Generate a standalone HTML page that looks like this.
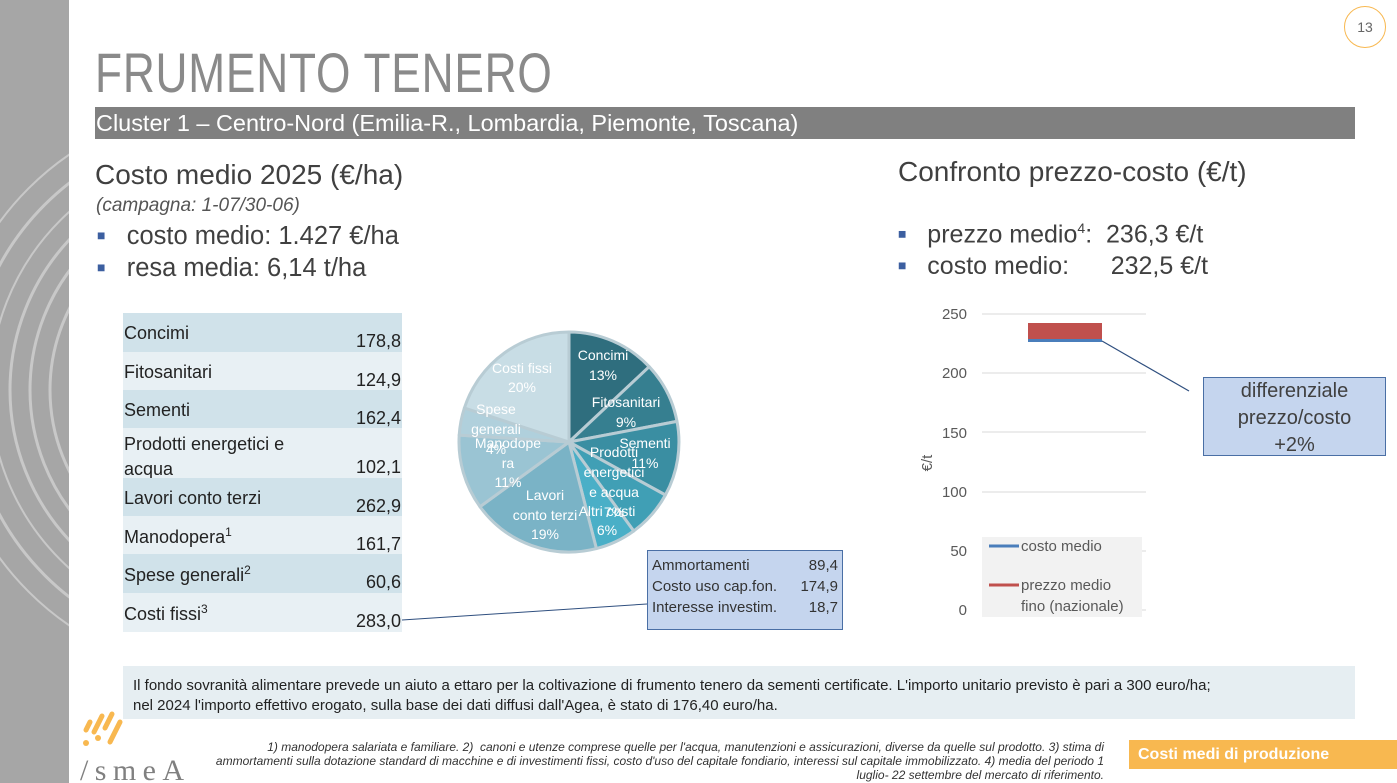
<!DOCTYPE html>
<html><head><meta charset="utf-8"><style>
body{margin:0;width:1397px;height:783px;overflow:hidden;background:#fff;font-family:"Liberation Sans",sans-serif;position:relative}
.a{position:absolute;white-space:nowrap}
.row{position:absolute;left:123px;width:279px;font-size:18px;color:#222}
.row span{position:absolute}
</style></head><body>
<div class="a" style="left:0;top:0;width:69px;height:783px;background:#a6a6a6;overflow:hidden">
<svg width="69" height="783"><g fill="none" stroke="#c8c8c8" stroke-width="3">
<circle cx="230" cy="390" r="180"/><circle cx="230" cy="390" r="200"/><circle cx="230" cy="390" r="220"/><circle cx="230" cy="390" r="240" stroke-width="2"/><circle cx="230" cy="390" r="262"/><circle cx="230" cy="390" r="285" stroke-width="2"/></g></svg></div>
<div class="a" style="left:1344px;top:6px;width:40px;height:40px;border:1px solid #f8b850;border-radius:50%;text-align:center;line-height:40px;font-size:14px;color:#666">13</div>
<div class="a" style="left:95px;top:40px;font-size:56px;color:#8a8a8a;letter-spacing:1px;transform:scaleX(0.79);transform-origin:left">FRUMENTO TENERO</div>
<div class="a" style="left:95px;top:107px;width:1260px;height:32px;background:#808080"></div>
<div class="a" style="left:96px;top:110px;font-size:23px;color:#fff;transform:scaleX(1.02);transform-origin:left">Cluster 1 – Centro-Nord (Emilia-R., Lombardia, Piemonte, Toscana)</div>
<div class="a" style="left:95px;top:159px;font-size:28px;color:#404040">Costo medio 2025 (€/ha)</div>
<div class="a" style="left:96px;top:195px;font-size:19px;color:#555;font-style:italic">(campagna: 1-07/30-06)</div>
<div class="a" style="left:97px;top:222px;font-size:25.5px;color:#404040"><span style="color:#3c5fa0;font-size:14px;vertical-align:4px">■</span>&nbsp;&nbsp;&nbsp;costo medio: 1.427 €/ha</div>
<div class="a" style="left:97px;top:254px;font-size:25.5px;color:#404040"><span style="color:#3c5fa0;font-size:14px;vertical-align:4px">■</span>&nbsp;&nbsp;&nbsp;resa media: 6,14 t/ha</div>
<div class="a" style="left:898px;top:156px;font-size:28px;color:#404040">Confronto prezzo-costo (€/t)</div>
<div class="a" style="left:898px;top:220px;font-size:25px;color:#404040"><span style="color:#3c5fa0;font-size:14px;vertical-align:4px">■</span>&nbsp;&nbsp;&nbsp;prezzo medio<sup style="font-size:14px">4</sup>:&nbsp; 236,3 €/t</div>
<div class="a" style="left:898px;top:252px;font-size:25px;color:#404040"><span style="color:#3c5fa0;font-size:14px;vertical-align:4px">■</span>&nbsp;&nbsp;&nbsp;costo medio:&nbsp;&nbsp;&nbsp;&nbsp;&nbsp; 232,5 €/t</div>

<div class="row" style="top:313px;height:39px;background:#d0e2ea"><span style="left:1px;top:10px">Concimi</span><span style="right:1px;top:18px">178,8</span></div>
<div class="row" style="top:352px;height:38px;background:#e8f0f4"><span style="left:1px;top:10px">Fitosanitari</span><span style="right:1px;top:18px">124,9</span></div>
<div class="row" style="top:390px;height:38px;background:#d0e2ea"><span style="left:1px;top:10px">Sementi</span><span style="right:1px;top:18px">162,4</span></div>
<div class="row" style="top:428px;height:50px;background:#e8f0f4"><span style="left:1px;top:4px;line-height:25px">Prodotti energetici e<br>acqua</span><span style="right:1px;top:29px">102,1</span></div>
<div class="row" style="top:478px;height:38px;background:#d0e2ea"><span style="left:1px;top:10px">Lavori conto terzi</span><span style="right:1px;top:18px">262,9</span></div>
<div class="row" style="top:516px;height:38px;background:#e8f0f4"><span style="left:1px;top:9px">Manodopera<sup style="font-size:12px">1</sup></span><span style="right:1px;top:18px">161,7</span></div>
<div class="row" style="top:554px;height:39px;background:#d0e2ea"><span style="left:1px;top:9px">Spese generali<sup style="font-size:12px">2</sup></span><span style="right:1px;top:18px">60,6</span></div>
<div class="row" style="top:593px;height:39px;background:#e8f0f4"><span style="left:1px;top:9px">Costi fissi<sup style="font-size:12px">3</sup></span><span style="right:1px;top:18px">283,0</span></div>

<svg class="a" style="left:0;top:0" width="1397" height="783">
<g stroke="#b8ccd4" stroke-width="3" stroke-linejoin="round">
<path d="M569 442L569 332A110 110 0 0 1 649.2 366.7Z" fill="#2f6e7e"/>
<path d="M569 442L649.2 366.7A110 110 0 0 1 677 421.4Z" fill="#367f90"/>
<path d="M569 442L677 421.4A110 110 0 0 1 665.4 495Z" fill="#3a8ea2"/>
<path d="M569 442L665.4 495A110 110 0 0 1 633.7 531Z" fill="#409fb5"/>
<path d="M569 442L633.7 531A110 110 0 0 1 596.4 548.6Z" fill="#4aafc7"/>
<path d="M569 442L596.4 548.6A110 110 0 0 1 480 506.7Z" fill="#7ab3c6"/>
<path d="M569 442L480 506.7A110 110 0 0 1 459.2 435.1Z" fill="#9ac4d3"/>
<path d="M569 442L459.2 435.1A110 110 0 0 1 464.4 408Z" fill="#b0d0dc"/>
<path d="M569 442L464.4 408A110 110 0 0 1 569 332Z" fill="#c8dde5"/>
</g>
<g font-size="14" fill="#fff" text-anchor="middle">
<text x="603" y="360">Concimi</text><text x="603" y="380">13%</text>
<text x="626" y="407">Fitosanitari</text><text x="626" y="427">9%</text>
<text x="645" y="448">Sementi</text><text x="645" y="468">11%</text>
<text x="614" y="457">Prodotti</text><text x="614" y="477">energetici</text><text x="614" y="497">e acqua</text><text x="614" y="517">7%</text>
<text x="607" y="516">Altri costi</text><text x="607" y="535">6%</text>
<text x="545" y="500">Lavori</text><text x="545" y="520">conto terzi</text><text x="545" y="539">19%</text>
<text x="508" y="448">Manodope</text><text x="508" y="468">ra</text><text x="508" y="487">11%</text>
<text x="496" y="414">Spese</text><text x="496" y="434">generali</text><text x="496" y="454">4%</text>
<text x="522" y="373">Costi fissi</text><text x="522" y="392">20%</text>
</g>
<line x1="402" y1="620" x2="647" y2="604" stroke="#2f4f7f" stroke-width="1"/>
<g stroke="#d9d9d9" stroke-width="1">
<line x1="982" y1="314" x2="1146" y2="314"/><line x1="982" y1="373" x2="1146" y2="373"/><line x1="982" y1="432" x2="1146" y2="432"/><line x1="982" y1="492" x2="1146" y2="492"/><line x1="982" y1="551" x2="1146" y2="551"/><line x1="982" y1="610" x2="1146" y2="610"/>
</g>
<g font-size="15" fill="#595959" text-anchor="end">
<text x="967" y="319">250</text><text x="967" y="378">200</text><text x="967" y="438">150</text><text x="967" y="497">100</text><text x="967" y="556">50</text><text x="967" y="615">0</text>
</g>
<text x="932" y="463" font-size="15" fill="#595959" transform="rotate(-90 932 463)" text-anchor="middle">€/t</text>
<rect x="1028" y="323" width="74" height="16" fill="#c0504d"/>
<rect x="1028" y="339" width="74" height="3" fill="#4a7ebb"/>
<line x1="1102" y1="341" x2="1189" y2="391" stroke="#2f4f7f" stroke-width="1.2"/>
<rect x="982" y="537" width="160" height="80" fill="#f2f2f2"/>
<line x1="989" y1="546" x2="1019" y2="546" stroke="#4a7ebb" stroke-width="3"/>
<line x1="989" y1="585" x2="1019" y2="585" stroke="#c0504d" stroke-width="3"/>
<g font-size="15" fill="#595959"><text x="1021" y="551">costo medio</text><text x="1021" y="590">prezzo medio</text><text x="1021" y="611">fino (nazionale)</text></g>
</svg>
<div class="a" style="left:647px;top:550px;width:194px;height:74px;background:#c5d5ee;border:1px solid #4a6fa5;font-size:15px;color:#333;line-height:21px;padding-top:4px">
<div style="padding:0 4px;display:flex;justify-content:space-between"><span>Ammortamenti</span><span>89,4</span></div>
<div style="padding:0 4px;display:flex;justify-content:space-between"><span>Costo uso cap.fon.</span><span>174,9</span></div>
<div style="padding:0 4px;display:flex;justify-content:space-between"><span>Interesse investim.</span><span>18,7</span></div></div>
<div class="a" style="left:1203px;top:377px;width:181px;height:77px;background:#c5d5ee;border:1px solid #4a6fa5;font-size:20px;color:#404040;text-align:center;line-height:27px;white-space:normal">differenziale prezzo/costo<br>+2%</div>
<div class="a" style="left:123px;top:666px;width:1232px;height:53px;background:#e6eef2"></div>
<div class="a" style="left:133px;top:676px;font-size:15px;color:#222;line-height:20px">Il fondo sovranità alimentare prevede un aiuto a ettaro per la coltivazione di frumento tenero da sementi certificate. L'importo unitario previsto è pari a 300 euro/ha;<br>nel 2024 l'importo effettivo erogato, sulla base dei dati diffusi dall'Agea, è stato di 176,40 euro/ha.</div>
<svg class="a" style="left:78px;top:708px" width="112" height="75">
<g stroke="#f8b850" stroke-width="5" stroke-linecap="round"><line x1="8" y1="22" x2="12" y2="14"/><line x1="16" y1="24" x2="24" y2="8"/><line x1="27" y1="20" x2="34" y2="6"/><line x1="32" y1="34" x2="42" y2="14"/></g>
<g fill="#f8b850"><circle cx="8" cy="35" r="3"/><circle cx="20" cy="30" r="3"/></g>
<text x="2" y="72" font-size="30" fill="#808080" font-family="Liberation Serif" textLength="104">/smeA</text></svg>
<div class="a" style="left:215px;top:740px;width:889px;font-size:12px;font-style:italic;color:#333;text-align:right;white-space:normal;line-height:14px">1) manodopera salariata e familiare. 2)&nbsp; canoni e utenze comprese quelle per l'acqua, manutenzioni e assicurazioni, diverse da quelle sul prodotto. 3) stima di ammortamenti sulla dotazione standard di macchine e di investimenti fissi, costo d'uso del capitale fondiario, interessi sul capitale immobilizzato. 4) media del periodo 1 luglio- 22 settembre del mercato di riferimento.</div>
<div class="a" style="left:1129px;top:740px;width:268px;height:29px;background:#f8b850;color:#fff;font-weight:bold;font-size:16px;line-height:29px;padding-left:9px">Costi medi di produzione</div>
</body></html>
